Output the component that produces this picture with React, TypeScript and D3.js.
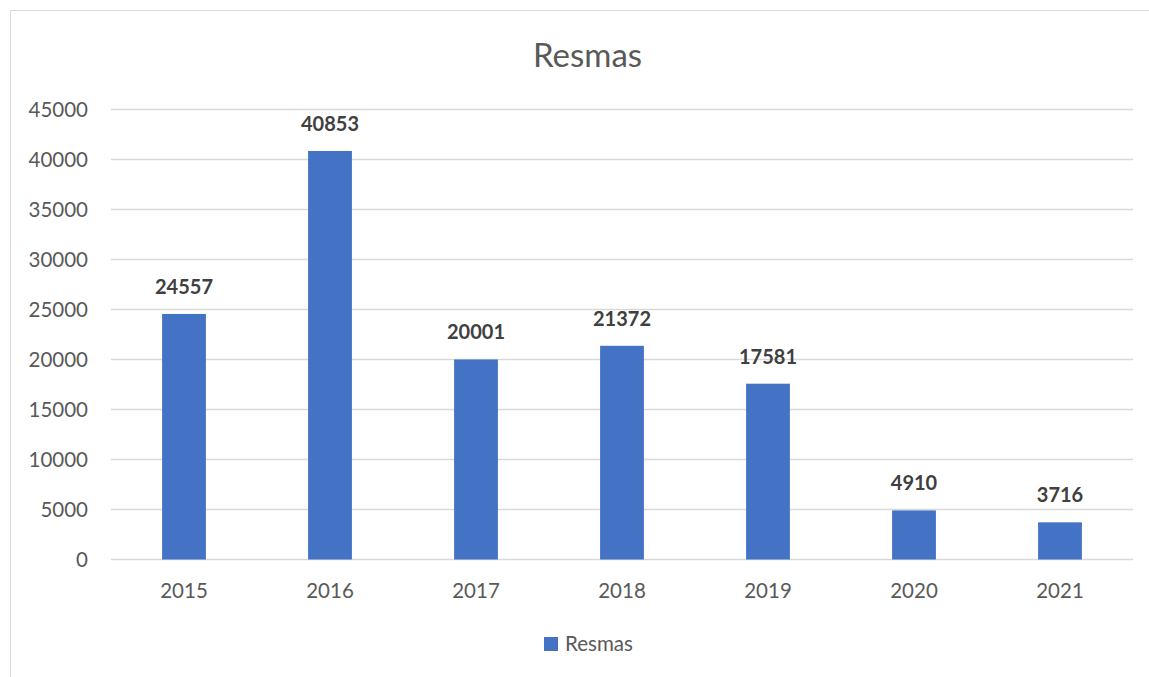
import React, {useRef, useEffect} from 'react';
import * as d3 from 'd3';

// data
const years = ['2015', '2016', '2017', '2018', '2019', '2020', '2021'];
const resmas = [24557, 40853, 20001, 21372, 17581, 4910, 3716];
const yTicks = [0, 5000, 10000, 15000, 20000, 25000, 30000, 35000, 40000, 45000];
const seriesName = 'Resmas';

export default function App(){
    const ref = useRef<SVGSVGElement>(null);

//graph width, height
    const W = 1149;
    const H = 677;
    const margin = {top: 109.5, right: 16, bottom: 117.5, left: 111};
    const font = 'Lato, "Open Sans", sans-serif';

    useEffect(() => {
        const svg = d3.select(ref.current);
        svg.selectAll('*').remove();

// chart border
        svg.append('rect')
            .attr('x', 10.5).attr('y', 10.5)
            .attr('width', W + 20).attr('height', H + 20)
            .attr('fill', 'white')
            .attr('stroke', '#d9d9d9')
            .attr('stroke-width', 1);

// scales
        const x = d3.scaleBand()
            .domain(years)
            .range([margin.left, W - margin.right])
            .paddingInner(0.7)
            .paddingOuter(0.35);

        const y = d3.scaleLinear()
            .domain([0, 45000])
            .range([H - margin.bottom, margin.top]);

// gridlines
        svg.append('g')
            .selectAll('line')
            .data(yTicks)
            .enter()
            .append('line')
            .attr('x1', margin.left)
            .attr('x2', W - margin.right)
            .attr('y1', d => y(d))
            .attr('y2', d => y(d))
            .attr('stroke', '#d9d9d9')
            .attr('stroke-width', 1.3);

// y labels
        svg.append('g')
            .selectAll('text')
            .data(yTicks)
            .enter()
            .append('text')
            .attr('x', 88)
            .attr('y', d => y(d))
            .attr('dy', '0.36em')
            .attr('text-anchor', 'end')
            .attr('font-family', font)
            .attr('font-size', 20.5)
            .attr('fill', '#595959')
            .text(d => d);

// x labels
        svg.append('g')
            .selectAll('text')
            .data(years)
            .enter()
            .append('text')
            .attr('x', d => (x(d) as number) + x.bandwidth() / 2)
            .attr('y', 598)
            .attr('text-anchor', 'middle')
            .attr('font-family', font)
            .attr('font-size', 20.5)
            .attr('fill', '#595959')
            .text(d => d);

// bars
        svg.append('g')
            .selectAll('rect')
            .data(resmas)
            .enter()
            .append('rect')
            .attr('x', (d, i) => x(years[i]) as number)
            .attr('y', d => y(d))
            .attr('width', x.bandwidth())
            .attr('height', d => y(0) - y(d))
            .attr('fill', '#4472C4');

// data labels
        svg.append('g')
            .selectAll('text')
            .data(resmas)
            .enter()
            .append('text')
            .attr('x', (d, i) => (x(years[i]) as number) + x.bandwidth() / 2)
            .attr('y', d => y(d) - 20)
            .attr('text-anchor', 'middle')
            .attr('font-family', font)
            .attr('font-weight', 'bold')
            .attr('font-size', 20)
            .attr('fill', '#404040')
            .text(d => d);

// title
        svg.append('text')
            .attr('x', 587.5)
            .attr('y', 67)
            .attr('text-anchor', 'middle')
            .attr('font-family', font)
            .attr('font-size', 33)
            .attr('fill', '#595959')
            .text(seriesName);

// legend
        const legend = svg.append('g');
        legend.append('rect')
            .attr('x', 544).attr('y', 637)
            .attr('width', 14).attr('height', 14)
            .attr('fill', '#4472C4');
        legend.append('text')
            .attr('x', 565)
            .attr('y', 651)
            .attr('font-family', font)
            .attr('font-size', 20.5)
            .attr('fill', '#595959')
            .text(seriesName);
    }, []);

    return(
        <div style={{position: 'absolute', left: 0, top: 0}}>
            <svg ref={ref} width={W} height={H} style={{display: 'block'}}/>
        </div>
    )
}
